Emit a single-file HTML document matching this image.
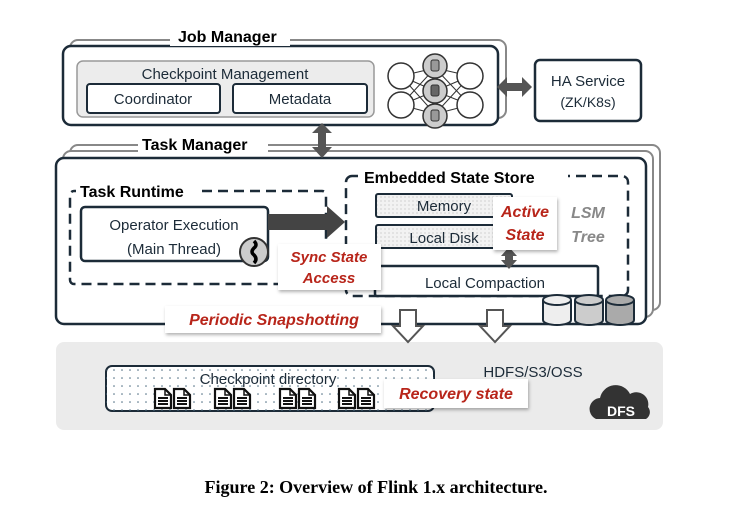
<!DOCTYPE html>
<html><head><style>
body{margin:0;background:#fff;}
svg{display:block;}
.s{font-family:"Liberation Sans",sans-serif;}
</style></head><body>
<svg width="752" height="510" viewBox="0 0 752 510" xmlns="http://www.w3.org/2000/svg">
<defs>
<pattern id="dots" width="8" height="8" patternUnits="userSpaceOnUse"><circle cx="2" cy="2" r="0.8" fill="#4a6a80"/></pattern>
<pattern id="hatch" width="4" height="4" patternUnits="userSpaceOnUse"><rect width="4" height="4" fill="#f2f2f2"/><circle cx="1" cy="1" r="0.6" fill="#bbb"/></pattern>
<filter id="sh" x="-10%" y="-10%" width="130%" height="140%"><feDropShadow dx="1" dy="2" stdDeviation="1.5" flood-color="#000" flood-opacity="0.3"/></filter>
<g id="doc"><path d="M0 0h10l6 6v13h-16z" fill="#fff" stroke="#111" stroke-width="2.2"/><path d="M10 0v6h6" fill="none" stroke="#111" stroke-width="1.5"/><path d="M3 9h10M3 12h10M3 15h10" stroke="#111" stroke-width="2"/></g>
</defs>
<g class="s">
<rect x="70" y="40" width="436" height="78" rx="8" fill="#fff" stroke="#888" stroke-width="2"/>
<rect x="63" y="46" width="435" height="79" rx="8" fill="#fff" stroke="#1c2b38" stroke-width="2.5"/>
<rect x="170" y="26" width="120" height="20" fill="#fff"/>
<text x="178" y="42" font-size="16" font-weight="bold" fill="#000">Job Manager</text>
<rect x="77" y="61" width="297" height="56" rx="6" fill="#ececec" stroke="#999" stroke-width="1.5"/>
<text x="225" y="79" font-size="15" text-anchor="middle" fill="#1c2b38">Checkpoint Management</text>
<rect x="87" y="84" width="133" height="29" rx="3" fill="#fff" stroke="#1c2b38" stroke-width="2"/>
<text x="153" y="104" font-size="15" text-anchor="middle" fill="#1c2b38">Coordinator</text>
<rect x="233" y="84" width="134" height="29" rx="3" fill="#fff" stroke="#1c2b38" stroke-width="2"/>
<text x="300" y="104" font-size="15" text-anchor="middle" fill="#1c2b38">Metadata</text>
<g stroke="#333" stroke-width="1" fill="none">
<path d="M401 76L435 68M401 76L435 91M401 76L435 114M401 105L435 68M401 105L435 91M401 105L435 114M470 76L435 68M470 76L435 91M470 76L435 114M470 105L435 68M470 105L435 91M470 105L435 114"/>
</g>
<g stroke="#333" stroke-width="1.5" fill="#fff">
<circle cx="401" cy="76" r="13"/><circle cx="401" cy="105" r="13"/>
<circle cx="470" cy="76" r="13"/><circle cx="470" cy="105" r="13"/>
<circle cx="435" cy="66" r="12" fill="#ccc"/><circle cx="435" cy="91" r="12" fill="#ccc"/><circle cx="435" cy="116" r="12" fill="#ccc"/>
</g>
<rect x="431" y="60" width="8" height="11" rx="2" fill="#999" stroke="#333"/>
<rect x="431" y="85" width="8" height="11" rx="2" fill="#666" stroke="#333"/>
<rect x="431" y="110" width="8" height="11" rx="2" fill="#999" stroke="#333"/>
<polygon points="497,87 507,77 507,83 522,83 522,77 532,87 522,97 522,91 507,91 507,97" fill="#555"/>
<rect x="535" y="60" width="106" height="61" rx="5" fill="#fff" stroke="#1c2b38" stroke-width="2.5"/>
<text x="588" y="86" font-size="15" text-anchor="middle" fill="#1c2b38">HA Service</text>
<text x="588" y="107" font-size="14" text-anchor="middle" fill="#1c2b38">(ZK/K8s)</text>
<rect x="70" y="145" width="590" height="165" rx="8" fill="#fff" stroke="#888" stroke-width="2"/>
<rect x="63" y="151" width="590" height="166" rx="8" fill="#fff" stroke="#888" stroke-width="2"/>
<rect x="56" y="158" width="590" height="166" rx="8" fill="#fff" stroke="#1c2b38" stroke-width="2.5"/>
<rect x="138" y="134" width="130" height="20" fill="#fff"/>
<text x="142" y="150" font-size="16" font-weight="bold" fill="#000">Task Manager</text>
<polygon points="322,123 332,133 326,133 326,147 332,147 322,158 312,147 318,147 318,133 312,133" fill="#555"/>
<rect x="70" y="191" width="256" height="93" rx="4" fill="none" stroke="#1c2b38" stroke-width="2.5" stroke-dasharray="10,6"/>
<rect x="76" y="182" width="126" height="18" fill="#fff"/>
<text x="80" y="197" font-size="16" font-weight="bold" fill="#000">Task Runtime</text>
<rect x="81" y="207" width="187" height="54" rx="4" fill="#fff" stroke="#1c2b38" stroke-width="2.5"/>
<text x="174" y="230" font-size="15" text-anchor="middle" fill="#1c2b38">Operator Execution</text>
<text x="174" y="254" font-size="15" text-anchor="middle" fill="#1c2b38">(Main Thread)</text>
<polygon points="268,214 327,214 327,206 345,222 327,238 327,230 268,230" fill="#444"/>
<circle cx="254" cy="252" r="14" fill="#ccc" stroke="#333" stroke-width="2"/>
<path d="M254 241 q4 4 0 7 q-4 4 0 7 q4 4 0 8" stroke="#000" stroke-width="3.5" fill="none"/>
<rect x="346" y="176" width="282" height="120" rx="6" fill="none" stroke="#1c2b38" stroke-width="2.5" stroke-dasharray="10,6"/>
<rect x="358" y="167" width="210" height="18" fill="#fff"/>
<text x="364" y="183" font-size="16" font-weight="bold" fill="#000">Embedded State Store</text>
<rect x="376" y="194" width="136" height="23" rx="2" fill="url(#hatch)" stroke="#1c2b38" stroke-width="2"/>
<text x="444" y="211" font-size="15" text-anchor="middle" fill="#1c2b38">Memory</text>
<rect x="376" y="225" width="136" height="23" rx="2" fill="url(#hatch)" stroke="#1c2b38" stroke-width="2"/>
<text x="444" y="243" font-size="15" text-anchor="middle" fill="#1c2b38">Local Disk</text>
<rect x="375" y="266" width="223" height="30" rx="2" fill="#fff" stroke="#1c2b38" stroke-width="2.5"/>
<text x="485" y="288" font-size="15" text-anchor="middle" fill="#1c2b38">Local Compaction</text>
<polygon points="509,247 517,256 513,256 513,260 517,260 509,269 501,260 505,260 505,256 501,256" fill="#555"/>
<rect x="493" y="197" width="64" height="53" fill="#fff" filter="url(#sh)"/>
<text x="525" y="217" font-size="16" font-weight="bold" font-style="italic" text-anchor="middle" fill="#b8251a">Active</text>
<text x="525" y="240" font-size="16" font-weight="bold" font-style="italic" text-anchor="middle" fill="#b8251a">State</text>
<text x="588" y="218" font-size="16" font-weight="bold" font-style="italic" text-anchor="middle" fill="#888">LSM</text>
<text x="588" y="242" font-size="16" font-weight="bold" font-style="italic" text-anchor="middle" fill="#888">Tree</text>
<rect x="278" y="244" width="103" height="46" fill="#fff" filter="url(#sh)"/>
<text x="329" y="262" font-size="15" font-weight="bold" font-style="italic" text-anchor="middle" fill="#b8251a">Sync State</text>
<text x="329" y="283" font-size="15" font-weight="bold" font-style="italic" text-anchor="middle" fill="#b8251a">Access</text>
<g stroke="#1c2b38" stroke-width="2">
<path d="M543 300 v20 a14 5 0 0 0 28 0 v-20" fill="#eee"/><ellipse cx="557" cy="300" rx="14" ry="5" fill="#eee"/>
<path d="M575 300 v20 a14 5 0 0 0 28 0 v-20" fill="#ccc"/><ellipse cx="589" cy="300" rx="14" ry="5" fill="#ccc"/>
<path d="M606 300 v20 a14 5 0 0 0 28 0 v-20" fill="#aaa"/><ellipse cx="620" cy="300" rx="14" ry="5" fill="#aaa"/>
</g>
<rect x="56" y="342" width="607" height="88" rx="8" fill="#ebebeb"/>
<polygon points="400,310 416,310 416,326 423,326 408,342 393,326 400,326" fill="#fff" stroke="#555" stroke-width="2"/>
<polygon points="487,310 503,310 503,326 510,326 495,342 480,326 487,326" fill="#fff" stroke="#555" stroke-width="2"/>
<rect x="165" y="306" width="216" height="27" fill="#fff" filter="url(#sh)"/>
<text x="274" y="325" font-size="16" font-weight="bold" font-style="italic" text-anchor="middle" fill="#b8251a">Periodic Snapshotting</text>
<rect x="106" y="366" width="328" height="45" rx="6" fill="#fff" stroke="#1c2b38" stroke-width="2"/>
<rect x="106" y="366" width="328" height="45" rx="6" fill="url(#dots)"/>
<text x="268" y="384" font-size="15" text-anchor="middle" fill="#1c2b38">Checkpoint directory</text>
<use href="#doc" x="155" y="389"/><use href="#doc" x="174" y="389"/>
<use href="#doc" x="215" y="389"/><use href="#doc" x="234" y="389"/>
<use href="#doc" x="280" y="389"/><use href="#doc" x="299" y="389"/>
<use href="#doc" x="339" y="389"/><use href="#doc" x="358" y="389"/>
<rect x="384" y="379" width="144" height="29" fill="#fff" filter="url(#sh)"/>
<text x="456" y="399" font-size="16" font-weight="bold" font-style="italic" text-anchor="middle" fill="#b8251a">Recovery state</text>
<text x="533" y="377" font-size="15" text-anchor="middle" fill="#1c2b38">HDFS/S3/OSS</text>
<path d="M596 419 a11 11 0 0 1 4 -21 a16 16 0 0 1 30 -4 a12 12 0 0 1 18 13 a8 8 0 0 1 -2 12 z" fill="#333"/>
<text x="621" y="416" font-size="14" font-weight="bold" text-anchor="middle" fill="#fff">DFS</text>
</g>
<text x="376" y="493" font-family="Liberation Serif,serif" font-size="18" font-weight="bold" text-anchor="middle" fill="#000">Figure 2: Overview of Flink 1.x architecture.</text>
</svg>
</body></html>
